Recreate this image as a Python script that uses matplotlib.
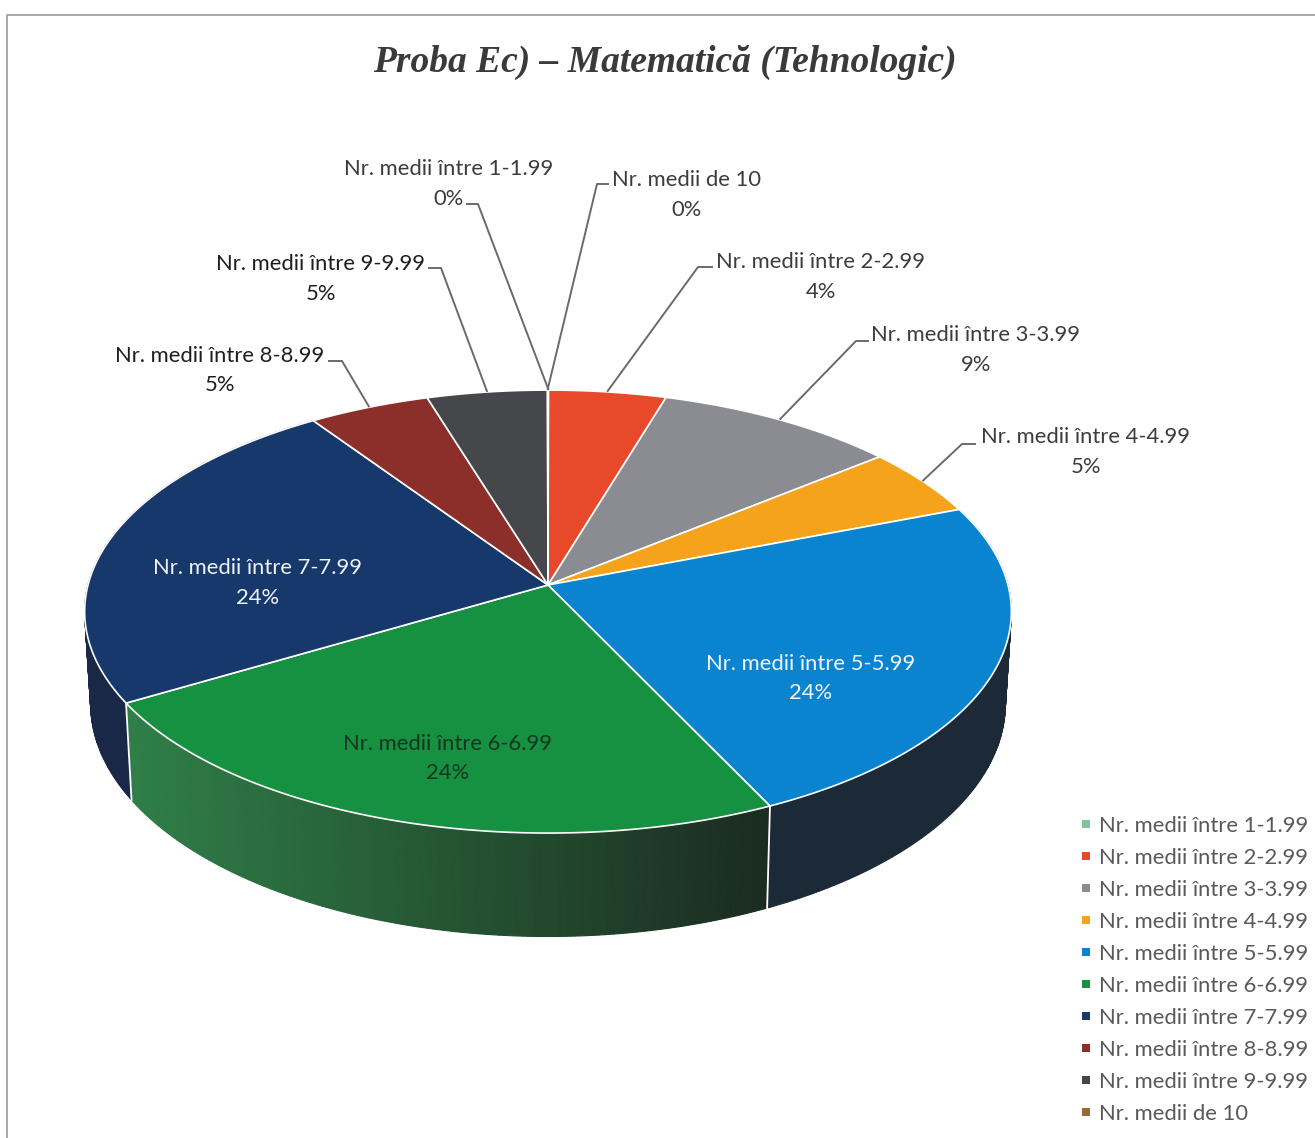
import numpy as np
import matplotlib
matplotlib.use("Agg")
import matplotlib.pyplot as plt

# Date
categorii = ["Nr. medii între 1-1.99", "Nr. medii între 2-2.99", "Nr. medii între 3-3.99",
             "Nr. medii între 4-4.99", "Nr. medii între 5-5.99", "Nr. medii între 6-6.99",
             "Nr. medii între 7-7.99", "Nr. medii între 8-8.99", "Nr. medii între 9-9.99",
             "Nr. medii de 10"]
valori = [0.02, 4.6, 9.5, 5.0, 23.8, 23.6, 24.0, 4.75, 4.71, 0.02]
procente = ["0%", "4%", "9%", "5%", "24%", "24%", "24%", "5%", "5%", "0%"]
culori = ["#7fc4a0", "#e8492a", "#8b8b92", "#f5a31a", "#0b84cf", "#169141", "#16386b",
          "#8c2f2b", "#45474a", "#9a6a32"]

# Geometrie si stil (pixeli din imagine)
CX, CY = 548, 585
A, B, P = 460, 218.3, 0.12
GROSIME = 91
MICSORARE = 0.987

# perete lateral: culoare stanga -> culoare dreapta
perete = {4: ("#1c2a38", "#1c2a38"), 5: ("#2f7f47", "#1b2b20"), 6: ("#1a2848", "#1a2848")}
# centrul textului (x, y linia 1, y linia 2)
pozitii = [(449, 169, 199), (821, 262, 292), (976, 335, 365), (1086, 437, 467), (811, 664, 693),
           (448, 744, 773), (258, 568, 598), (220, 356, 385), (321, 264, 294), (687, 180, 210)]
culori_text = ["#3c3c3c", "#3c3c3c", "#3c3c3c", "#3c3c3c", "#f2f6fa",
               "#14351f", "#eef2f6", "#1e1e1e", "#1e1e1e", "#3c3c3c"]
# cotul si capatul liniilor de indicatie
linii = {0: [(478, 204), (467, 204)], 9: [(597, 184), (608, 184)], 1: [(698, 267), (712, 267)],
         2: [(856, 341), (868, 341)], 3: [(962, 444), (975, 444)], 8: [(441, 268), (429, 268)],
         7: [(342, 361), (329, 361)]}

FONT = "Lato"
MARIME = 15.85


def proiectie(theta):
    # cerc vazut in perspectiva, theta in radiani de la varf, in sensul acelor de ceas
    u, v = np.sin(theta), np.cos(theta)
    d = 1 + P * v
    return CX + A * u / d, CY - B * v / d, d


def hex_rgb(c):
    return np.array(matplotlib.colors.to_rgb(c))


fig = plt.figure(figsize=(13.15, 11.38), dpi=100)
ax = fig.add_axes([0, 0, 1, 1])
ax.set_xlim(0, 1315)
ax.set_ylim(1138, 0)
ax.axis("off")

# chenarul paginii scanate
ax.plot([7, 7, 1315], [1138, 15, 15], color="#a8a8a8", lw=1.4)

limite = np.radians(np.concatenate([[0], np.cumsum(valori)]) * 3.6 * 100 / sum(valori))

# peretii laterali
for i, (t0, t1) in enumerate(zip(limite[:-1], limite[1:])):
    if i not in perete:
        continue
    th = np.linspace(t0, t1, 160)
    x, y, d = proiectie(th)
    xj = CX + (x - CX) * MICSORARE
    yj = y + GROSIME / d
    c0, c1 = hex_rgb(perete[i][0]), hex_rgb(perete[i][1])
    for k in range(len(th) - 1):
        f = (x[k] - x.min()) / (x.max() - x.min())
        c = c0 + (c1 - c0) * f
        ax.fill([x[k], x[k + 1], xj[k + 1], xj[k]], [y[k], y[k + 1], yj[k + 1], yj[k]],
                color=c, lw=0.8, zorder=2)

# muchiile verticale albe
for t in (limite[5], limite[6]):
    x, y, d = proiectie(t)
    ax.plot([x, CX + (x - CX) * MICSORARE], [y, y + GROSIME / d], color="white", lw=1.3, zorder=3)

# fata de sus
for i, (t0, t1) in enumerate(zip(limite[:-1], limite[1:])):
    th = np.linspace(t0, t1, 120)
    x, y, d = proiectie(th)
    ax.fill(np.r_[CX, x], np.r_[CY, y], facecolor=culori[i], edgecolor="white", lw=1.2,
            joinstyle="round", zorder=4)

# etichete si linii de indicatie
for i, cat in enumerate(categorii):
    px, l1, l2 = pozitii[i]
    ax.text(px, l1, cat, ha="center", va="center", fontsize=MARIME, family=FONT, color=culori_text[i], zorder=6)
    ax.text(px, l2, procente[i], ha="center", va="center", fontsize=MARIME, family=FONT, color=culori_text[i], zorder=6)
    if i in linii:
        mij = (limite[i] + limite[i + 1]) / 2
        x, y, _ = proiectie(mij)
        xs = [x] + [p[0] for p in linii[i]]
        ys = [y - 1] + [p[1] for p in linii[i]]
        ax.plot(xs, ys, color="#6a6a6a", lw=1.4, zorder=5)

# legenda
for i, cat in enumerate(categorii):
    yl = 824 + 32 * i
    ax.scatter([1086], [yl], marker="s", s=30, color=culori[i], lw=0, zorder=6)
    ax.text(1099, yl + 2, cat, ha="left", va="center", fontsize=MARIME, family=FONT, color="#595959", zorder=6)

ax.text(665, 62, "Proba Ec) – Matematică (Tehnologic)", ha="center", va="center", fontsize=27,
        family="Liberation Serif", style="italic", weight="bold", color="#3a3a3a")

fig.savefig("out.png", dpi=100)
